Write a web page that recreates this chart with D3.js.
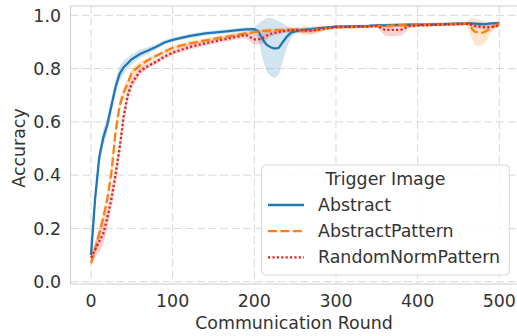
<!DOCTYPE html>
<html>
<head>
<meta charset="utf-8">
<script src="https://cdn.jsdelivr.net/npm/d3@7"></script>
<style>
  html, body { margin: 0; padding: 0; background: #fff; }
  svg { display: block; font-family: "DejaVu Sans", sans-serif; }
</style>
</head>
<body>
<svg id="chart" width="517" height="336"></svg>
<script>
// Communication rounds at which accuracy was recorded
const rounds = [0, 5, 10, 15, 20, 25, 30, 35, 40, 45, 50, 60, 70, 80, 90, 100, 120, 140, 160, 180,
  190, 200, 205, 210, 215, 220, 225, 230, 235, 240, 245, 250, 260, 270, 280, 290, 300, 320, 340, 350,
  360, 370, 380, 390, 400, 420, 440, 460, 465, 470, 475, 480, 485, 490, 500];

// Mean accuracy per trigger image
const abstractMean = [0.10, 0.31, 0.465, 0.54, 0.59, 0.66, 0.73, 0.78, 0.805, 0.82, 0.835, 0.855, 0.868, 0.882, 0.898, 0.908, 0.922, 0.932, 0.938, 0.944,
  0.947, 0.948, 0.94, 0.91, 0.89, 0.88, 0.875, 0.878, 0.90, 0.92, 0.935, 0.94, 0.945, 0.948, 0.952, 0.955, 0.957, 0.958, 0.96, 0.962,
  0.962, 0.963, 0.964, 0.965, 0.965, 0.966, 0.968, 0.97, 0.97, 0.969, 0.968, 0.967, 0.968, 0.97, 0.971];
const abstractPatternMean = [0.07, 0.12, 0.18, 0.24, 0.31, 0.41, 0.56, 0.66, 0.71, 0.745, 0.785, 0.812, 0.832, 0.848, 0.863, 0.878, 0.894, 0.906, 0.917, 0.927,
  0.932, 0.937, 0.939, 0.941, 0.942, 0.943, 0.944, 0.944, 0.945, 0.945, 0.945, 0.945, 0.94, 0.943, 0.948, 0.952, 0.955, 0.956, 0.958, 0.96,
  0.958, 0.962, 0.963, 0.962, 0.963, 0.965, 0.967, 0.97, 0.955, 0.938, 0.935, 0.935, 0.942, 0.955, 0.968];
const randomNormPatternMean = [0.09, 0.12, 0.15, 0.18, 0.24, 0.31, 0.40, 0.50, 0.62, 0.70, 0.745, 0.79, 0.81, 0.826, 0.845, 0.86, 0.88, 0.895, 0.908, 0.92,
  0.926, 0.91, 0.91, 0.914, 0.923, 0.93, 0.934, 0.937, 0.94, 0.942, 0.944, 0.946, 0.944, 0.942, 0.947, 0.952, 0.956, 0.957, 0.958, 0.96,
  0.945, 0.945, 0.946, 0.96, 0.962, 0.964, 0.966, 0.968, 0.965, 0.96, 0.958, 0.956, 0.955, 0.956, 0.962];

// Half-width of the confidence band around each mean
const abstractSpread = [0.02, 0.03, 0.03, 0.03, 0.03, 0.03, 0.03, 0.028, 0.025, 0.022, 0.02, 0.016, 0.013, 0.01, 0.009, 0.008, 0.008, 0.008, 0.008, 0.008,
  0.008, 0.008, 0.03, 0.07, 0.10, 0.11, 0.11, 0.10, 0.07, 0.04, 0.02, 0.01, 0.006, 0.006, 0.006, 0.006, 0.006, 0.006, 0.006, 0.006,
  0.006, 0.006, 0.006, 0.006, 0.006, 0.006, 0.006, 0.006, 0.006, 0.006, 0.006, 0.006, 0.006, 0.006, 0.006];
const abstractPatternSpread = [0.02, 0.025, 0.025, 0.025, 0.025, 0.025, 0.025, 0.025, 0.02, 0.02, 0.018, 0.015, 0.01, 0.008, 0.008, 0.008, 0.008, 0.008, 0.008, 0.008,
  0.008, 0.008, 0.008, 0.008, 0.008, 0.008, 0.008, 0.008, 0.008, 0.008, 0.008, 0.008, 0.015, 0.015, 0.012, 0.008, 0.006, 0.006, 0.006, 0.008,
  0.008, 0.006, 0.006, 0.006, 0.006, 0.006, 0.006, 0.006, 0.035, 0.05, 0.05, 0.045, 0.035, 0.018, 0.006];
const randomNormPatternSpread = [0.02, 0.03, 0.04, 0.04, 0.04, 0.04, 0.04, 0.035, 0.03, 0.025, 0.02, 0.015, 0.01, 0.01, 0.01, 0.01, 0.01, 0.01, 0.01, 0.01,
  0.012, 0.02, 0.02, 0.02, 0.015, 0.01, 0.008, 0.008, 0.008, 0.008, 0.008, 0.008, 0.01, 0.012, 0.008, 0.006, 0.006, 0.006, 0.006, 0.006,
  0.022, 0.025, 0.022, 0.01, 0.006, 0.006, 0.006, 0.006, 0.008, 0.01, 0.01, 0.01, 0.01, 0.008, 0.006];

const seriesNames = ["Abstract", "AbstractPattern", "RandomNormPattern"];
const seriesColors = ["#1f77b4", "#ff7f0e", "#d62728"];
const seriesDashes = [null, "9,3.4", "2.2,2.2"];
const seriesMeans = [abstractMean, abstractPatternMean, randomNormPatternMean];
const seriesSpreads = [abstractSpread, abstractPatternSpread, randomNormPatternSpread];

const xTicks = [0, 100, 200, 300, 400, 500];
const yTicks = [0.0, 0.2, 0.4, 0.6, 0.8, 1.0];

const svg = d3.select("#chart");
const textColor = "#333";
const fontSize = 17.4;

const x = d3.scaleLinear().domain([0, 500]).range([91, 499.3]);
const y = d3.scaleLinear().domain([0, 1]).range([281.7, 15.3]);

const frameLeft = x(-25), frameRight = x(525);
const frameTop = y(1.035), frameBottom = y(-0.009);

// Grid
const grid = svg.append("g");
grid.selectAll("line.h").data(yTicks).join("line")
  .attr("x1", frameLeft).attr("x2", frameRight)
  .attr("y1", d => y(d)).attr("y2", d => y(d))
  .attr("stroke", "#d8d8d8").attr("stroke-width", 1).attr("stroke-dasharray", "8,3.5");
grid.selectAll("line.v").data(xTicks).join("line")
  .attr("y1", frameTop).attr("y2", frameBottom)
  .attr("x1", d => x(d)).attr("x2", d => x(d))
  .attr("stroke", "#d8d8d8").attr("stroke-width", 1).attr("stroke-dasharray", "8,3.5");

// Frame
svg.append("rect")
  .attr("x", frameLeft).attr("y", frameTop)
  .attr("width", frameRight - frameLeft).attr("height", frameBottom - frameTop)
  .attr("fill", "none").attr("stroke", "#cccccc").attr("stroke-width", 1);

// Bands and lines
const plot = svg.append("g");
seriesNames.forEach((name, i) => {
  const pts = rounds.map((r, k) => ({ r, m: seriesMeans[i][k], s: seriesSpreads[i][k] }));
  plot.append("path")
    .datum(pts)
    .attr("d", d3.area().x(d => x(d.r)).y0(d => y(d.m - d.s)).y1(d => y(d.m + d.s)))
    .attr("fill", seriesColors[i]).attr("fill-opacity", 0.2).attr("stroke", "none");
});
seriesNames.forEach((name, i) => {
  const pts = rounds.map((r, k) => ({ r, m: seriesMeans[i][k] }));
  plot.append("path")
    .datum(pts)
    .attr("d", d3.line().x(d => x(d.r)).y(d => y(d.m)))
    .attr("fill", "none").attr("stroke", seriesColors[i]).attr("stroke-width", 2.3)
    .attr("stroke-dasharray", seriesDashes[i]);
});

// Tick labels
svg.append("g").selectAll("text").data(yTicks).join("text")
  .attr("x", 61).attr("y", d => y(d) + 6.3)
  .attr("text-anchor", "end").attr("font-size", fontSize).attr("fill", textColor)
  .text(d => d.toFixed(1));
svg.append("g").selectAll("text").data(xTicks).join("text")
  .attr("x", d => x(d)).attr("y", 306.5)
  .attr("text-anchor", "middle").attr("font-size", fontSize).attr("fill", textColor)
  .text(d => d);

// Axis titles
svg.append("text")
  .attr("x", 294).attr("y", 328.5)
  .attr("text-anchor", "middle").attr("font-size", fontSize).attr("fill", textColor)
  .text("Communication Round");
svg.append("text")
  .attr("transform", "translate(25,148) rotate(-90)")
  .attr("text-anchor", "middle").attr("font-size", fontSize).attr("fill", textColor)
  .text("Accuracy");

// Legend
const legend = svg.append("g");
legend.append("rect")
  .attr("x", 261.7).attr("y", 165).attr("width", 247.6).attr("height", 110)
  .attr("rx", 4).attr("fill", "#fff").attr("fill-opacity", 0.85)
  .attr("stroke", "#d6d6d6").attr("stroke-width", 1);
legend.append("text")
  .attr("x", 385.5).attr("y", 185)
  .attr("text-anchor", "middle").attr("font-size", fontSize).attr("fill", textColor)
  .text("Trigger Image");
seriesNames.forEach((name, i) => {
  const base = 210.7 + i * 26.2;
  legend.append("line")
    .attr("x1", 268).attr("x2", 304)
    .attr("y1", base - 5.7).attr("y2", base - 5.7)
    .attr("stroke", seriesColors[i]).attr("stroke-width", 2.3)
    .attr("stroke-dasharray", seriesDashes[i]);
  legend.append("text")
    .attr("x", 318).attr("y", base)
    .attr("font-size", fontSize).attr("fill", textColor)
    .text(name);
});
</script>
</body>
</html>
